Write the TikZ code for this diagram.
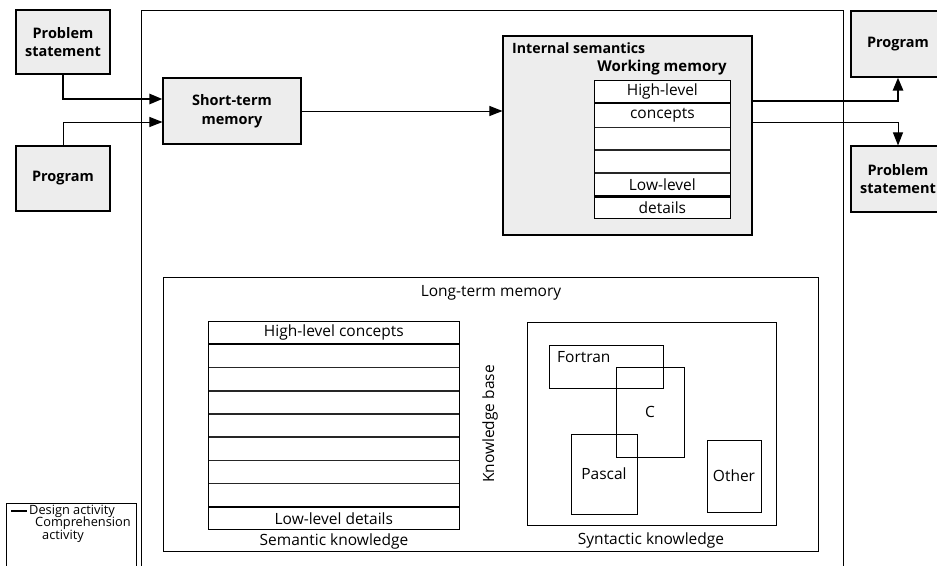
\documentclass[tikz,border=0pt]{standalone}
\usepackage{fontspec}
\setmainfont{Open Sans}
\usetikzlibrary{arrows.meta}
\definecolor{shade}{gray}{0.93}
\newcommand{\fsz}[1]{\fontsize{#1}{#1}\selectfont}
\tikzset{
  fillbox/.style={draw, line width=1.1pt, fill=shade, align=center, inner sep=0pt,
    font=\bfseries\fsz{14.5}\linespread{1.3}\selectfont},
  plainbox/.style={draw, line width=0.9pt, inner sep=0pt, font=\fsz{15.5}},
  rowcell/.style={draw=black!85, line width=0.7pt, fill=white, inner sep=0pt, font=\fsz{15.5}},
  txt/.style={inner sep=0pt, font=\fsz{15.5}},
  keytxt/.style={inner sep=0pt, anchor=west, font=\fsz{12.8}},
  design/.style={line width=2.6pt, -{Triangle[length=13pt,width=10pt]}},
  compr/.style={line width=1pt, -{Triangle[length=13pt,width=10pt]}},
  sep/.style={line width=2.2pt},
}
\begin{document}
\begin{tikzpicture}[x=1pt,y=-1pt]
\useasboundingbox (0,0) rectangle (937,565);
\begin{scope}
\clip (0,0) rectangle (937,565);

% outer frame of the programmer's mind, open at the bottom
\draw[line width=0.9pt] (141,580) -- (141,10) -- (843,10) -- (843,580);

% inputs
\node[fillbox, minimum width=94pt, minimum height=64pt] (psin) at (63,42) {Problem\\statement};
\node[fillbox, minimum width=94pt, minimum height=65pt] (prin) at (63,178.5) {Program};
\node[fillbox, minimum width=138pt, minimum height=66pt] (stm) at (232,111) {Short-term\\memory};

% internal semantics
\node[fillbox, minimum width=249pt, minimum height=199pt] (isem) at (627.5,135.5) {};
\node[txt, anchor=west, font=\bfseries\fsz{14.2}] (isemlbl) at (512,48) {Internal semantics};
\node[txt, font=\bfseries\fsz{15}] (wmlbl) at (662,68) {Working memory};

% working memory levels
\node[rowcell, minimum width=136pt, minimum height=22pt, anchor=north west] (wm1) at (594,80) {High-level};
\node[rowcell, minimum width=136pt, minimum height=24pt, anchor=north] (wm2) at (wm1.south) {concepts};
\node[rowcell, minimum width=136pt, minimum height=22pt, anchor=north] (wm3) at (wm2.south) {};
\node[rowcell, minimum width=136pt, minimum height=22pt, anchor=north] (wm4) at (wm3.south) {};
\node[rowcell, minimum width=136pt, minimum height=23pt, anchor=north] (wm5) at (wm4.south) {Low-level};
\node[rowcell, minimum width=136pt, minimum height=21pt, anchor=north] (wm6) at (wm5.south) {details};
\draw[line width=1pt] (wm1.north west) rectangle (wm6.south east);
\draw[sep] (wm1.south west) -- (wm1.south east);
\draw[sep] (wm5.south west) -- (wm5.south east);

% outputs
\node[fillbox, minimum width=94pt, minimum height=66pt] (prout) at (898,44) {Program};
\node[fillbox, minimum width=94pt, minimum height=66pt] (psout) at (898,179) {Problem\\statement};

% connectors
\coordinate (c1) at (63,99);
\coordinate (c2) at (63,122);
\draw[design] (psin.south) -- (c1) -- (stm.west |- c1);
\draw[compr] (prin.north) -- (c2) -- (stm.west |- c2);
\draw[compr] (stm.east) -- (isem.west |- stm.east);
\coordinate (c3) at (898,101);
\coordinate (c4) at (898,122);
\draw[design] (isem.east |- c3) -- (c3) -- (prout.south);
\draw[compr] (isem.east |- c4) -- (c4) -- (psout.north);

% long-term memory
\node[plainbox, minimum width=655pt, minimum height=274pt] (ltm) at (490.5,414) {};
\node[txt] (ltmlbl) at (491,293) {Long-term memory};

% semantic knowledge levels
\node[rowcell, minimum width=251pt, minimum height=22.5pt, anchor=north west] (sk1) at (208,321) {High-level concepts};
\node[rowcell, minimum width=251pt, minimum height=22.5pt, anchor=north] (sk2) at (sk1.south) {};
\node[rowcell, minimum width=251pt, minimum height=22.5pt, anchor=north] (sk3) at (sk2.south) {};
\node[rowcell, minimum width=251pt, minimum height=22.5pt, anchor=north] (sk4) at (sk3.south) {};
\node[rowcell, minimum width=251pt, minimum height=22.5pt, anchor=north] (sk5) at (sk4.south) {};
\node[rowcell, minimum width=251pt, minimum height=22.5pt, anchor=north] (sk6) at (sk5.south) {};
\node[rowcell, minimum width=251pt, minimum height=22.5pt, anchor=north] (sk7) at (sk6.south) {};
\node[rowcell, minimum width=251pt, minimum height=22.5pt, anchor=north] (sk8) at (sk7.south) {};
\node[rowcell, minimum width=251pt, minimum height=22.5pt, anchor=north] (sk9) at (sk8.south) {Low-level details};
\draw[line width=1pt] (sk1.north west) rectangle (sk9.south east);
\draw[sep] (sk1.south west) -- (sk1.south east);
\draw[sep] (sk8.south west) -- (sk8.south east);
\node[txt] (sklbl) at (334,541) {Semantic knowledge};

\node[txt, rotate=90] (kb) at (490,424) {Knowledge base};

% syntactic knowledge
\node[plainbox, minimum width=249pt, minimum height=203pt] (syn) at (651.5,423.5) {};
\node[txt] (synlbl) at (651,540) {Syntactic knowledge};
\node[plainbox, minimum width=114pt, minimum height=43pt] (fortran) at (606,366.5) {};
\node[txt, anchor=west] (fortranlbl) at (557,357) {Fortran};
\node[plainbox, minimum width=68pt, minimum height=90pt] (clang) at (650,412) {C};
\node[plainbox, minimum width=66pt, minimum height=80pt] (pascal) at (604,474) {Pascal};
\node[plainbox, minimum width=54pt, minimum height=72pt] (other) at (734,476) {Other};

% key
\draw[line width=0.9pt] (6,580) -- (6,503) -- (136,503) -- (136,580);
\coordinate (k1) at (11,511);
\coordinate (k2) at (27,511);
\draw[line width=2.6pt] (k1) -- (k2);
\node[keytxt] (kd) at (29,511) {Design activity};
\node[keytxt] (kc) at (35,523.5) {Comprehension};
\node[keytxt] (ka) at (42,536) {activity};
\end{scope}
\end{tikzpicture}
\end{document}
